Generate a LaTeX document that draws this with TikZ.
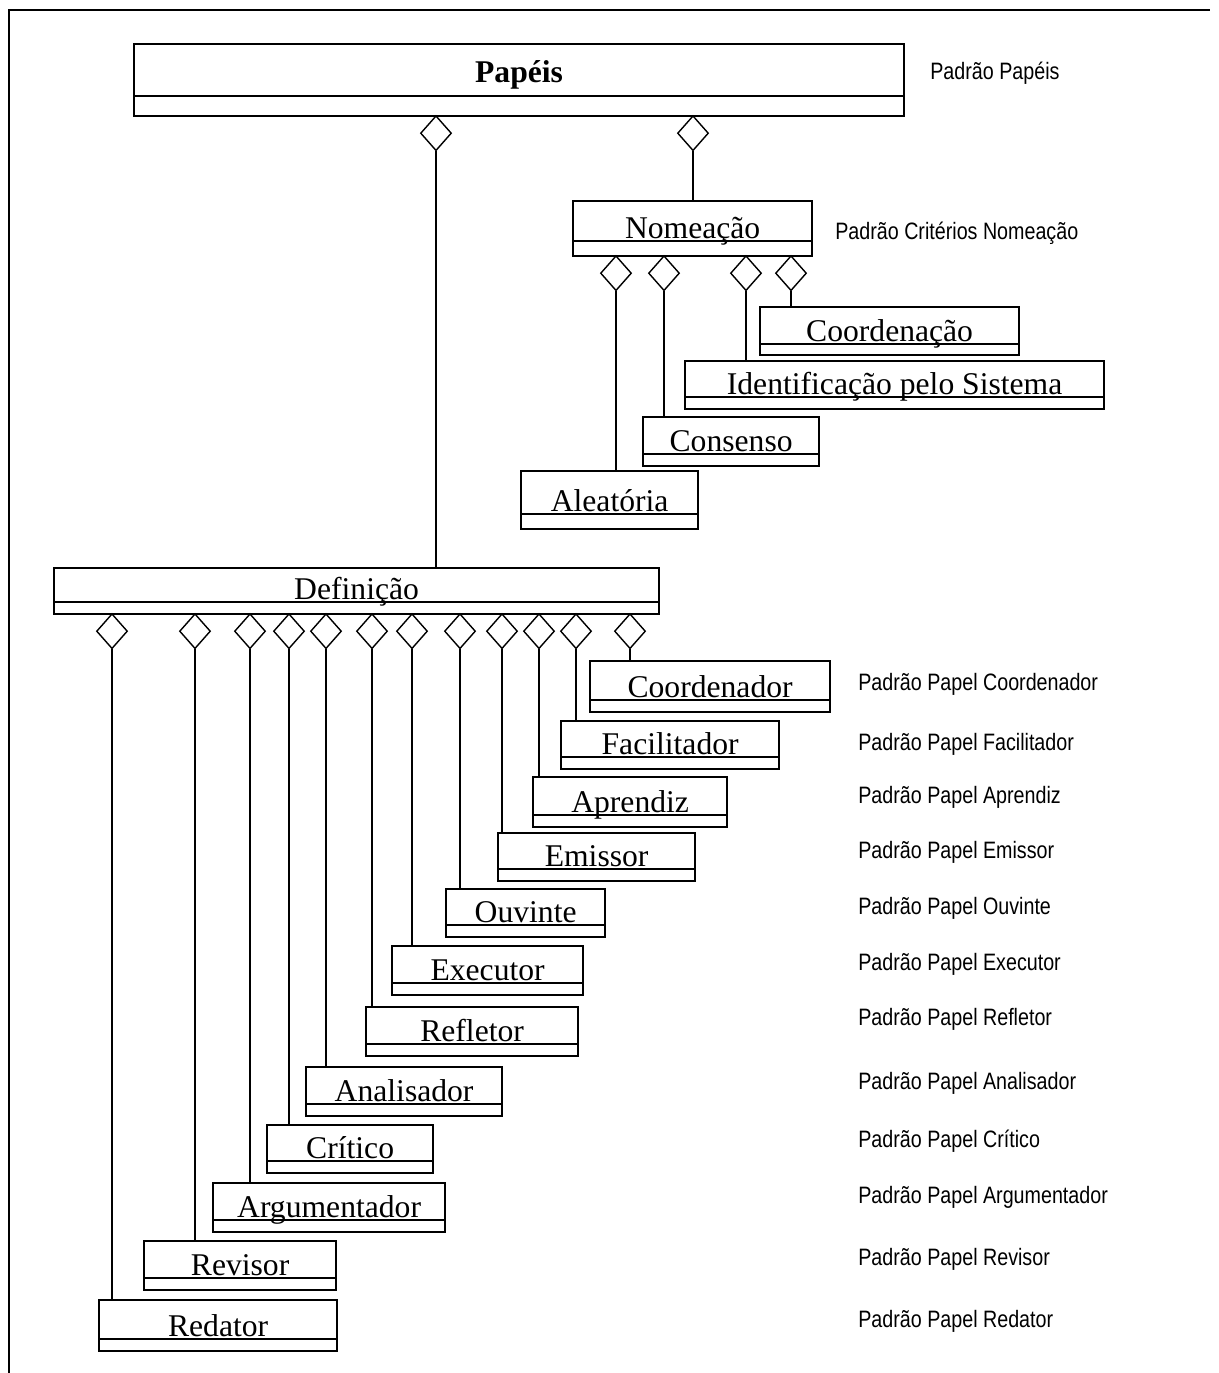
\documentclass[tikz,border=0pt]{standalone}
\usepackage{fontspec}
\usepackage{tikz}
\usetikzlibrary{shapes.geometric}
\newfontfamily\serifbox{Liberation Serif}
\newfontfamily\sansnarrow[FakeStretch=0.83]{Liberation Sans}
\tikzset{
  classbox/.style={draw,rectangle,line width=1.3pt,inner sep=0pt,anchor=north west,
    path picture={\draw[line width=0.9pt] ([yshift=#1]path picture bounding box.south west)
      -- ([yshift=#1]path picture bounding box.south east);}},
  classbox/.default=0.24cm,
  classname/.style={anchor=base,inner sep=0pt,font=\serifbox\fontsize{18}{20}\selectfont,yshift=#1},
  classname/.default=0.31cm,
  agg/.style={draw,diamond,line width=0.8pt,fill=white,inner sep=0pt,aspect=0.9,
    minimum width=0.62cm,minimum height=0.7cm,anchor=north},
  link/.style={line width=0.8pt},
  patlabel/.style={anchor=west,inner sep=0pt,font=\sansnarrow\fontsize{13.5}{15}\selectfont}
}

\begin{document}
\begin{tikzpicture}[x=0.02cm,y=-0.02cm]
    \useasboundingbox (0,0) rectangle (1218,1373);
    % frame
    \draw[line width=1.1pt] (9,1373) -- (9,10) -- (1210,10);

    % top class
    \node[classbox=0.4cm,minimum width=15.4cm,minimum height=1.44cm,
      label={[classname=0.7cm,font=\serifbox\bfseries\fontsize{18}{20}\selectfont]south:Papéis}] (papeis) at (133,43) {};
    \node[patlabel] (lpapeis) at (930,73) {Padrão Papéis};

    % naming criteria
    \node[classbox=0.3cm,minimum width=4.78cm,minimum height=1.1cm,
      label={[classname=0.37cm]south:Nomeação}] (nomeacao) at (572,200) {};
    \node[patlabel] (lnomeacao) at (835,233) {Padrão Critérios Nomeação};
    \node[classbox=0.22cm,minimum width=5.18cm,minimum height=0.96cm,
      label={[classname=0.29cm]south:Coordenação}] (coordenacao) at (759,306) {};
    \node[classbox,minimum width=8.38cm,minimum height=0.96cm,
      label={[classname]south:Identificação pelo Sistema}] (identificacao) at (684,360) {};
    \node[classbox,minimum width=3.52cm,minimum height=0.98cm,
      label={[classname]south:Consenso}] (consenso) at (642,416) {};
    \node[classbox=0.3cm,minimum width=3.54cm,minimum height=1.16cm,
      label={[classname=0.37cm]south:Aleatória}] (aleatoria) at (520,470) {};

    % definition
    \node[classbox,minimum width=12.1cm,minimum height=0.92cm,
      label={[classname]south:Definição}] (definicao) at (53,567) {};

    % roles
    \node[classbox,minimum width=4.8cm,minimum height=1.02cm,
      label={[classname]south:Coordenador}] (coordenador) at (589,660) {};
    \node[classbox,minimum width=4.36cm,minimum height=0.96cm,
      label={[classname]south:Facilitador}] (facilitador) at (560,720) {};
    \node[classbox,minimum width=3.88cm,minimum height=1.0cm,
      label={[classname]south:Aprendiz}] (aprendiz) at (532,776) {};
    \node[classbox,minimum width=3.94cm,minimum height=0.96cm,
      label={[classname]south:Emissor}] (emissor) at (497,832) {};
    \node[classbox,minimum width=3.18cm,minimum height=0.96cm,
      label={[classname]south:Ouvinte}] (ouvinte) at (445,888) {};
    \node[classbox,minimum width=3.82cm,minimum height=0.98cm,
      label={[classname]south:Executor}] (executor) at (391,945) {};
    \node[classbox,minimum width=4.24cm,minimum height=0.98cm,
      label={[classname]south:Refletor}] (refletor) at (365,1006) {};
    \node[classbox,minimum width=3.92cm,minimum height=0.98cm,
      label={[classname]south:Analisador}] (analisador) at (305,1066) {};
    \node[classbox,minimum width=3.32cm,minimum height=0.96cm,
      label={[classname]south:Crítico}] (critico) at (266,1124) {};
    \node[classbox,minimum width=4.64cm,minimum height=0.98cm,
      label={[classname]south:Argumentador}] (argumentador) at (212,1182) {};
    \node[classbox,minimum width=3.84cm,minimum height=0.98cm,
      label={[classname]south:Revisor}] (revisor) at (143,1240) {};
    \node[classbox,minimum width=4.76cm,minimum height=1.02cm,
      label={[classname]south:Redator}] (redator) at (98,1299) {};

    % pattern names
    \node[patlabel] (lcoordenador) at (858,684) {Padrão Papel Coordenador};
    \node[patlabel] (lfacilitador) at (858,744) {Padrão Papel Facilitador};
    \node[patlabel] (laprendiz) at (858,797) {Padrão Papel Aprendiz};
    \node[patlabel] (lemissor) at (858,852) {Padrão Papel Emissor};
    \node[patlabel] (louvinte) at (858,908) {Padrão Papel Ouvinte};
    \node[patlabel] (lexecutor) at (858,964) {Padrão Papel Executor};
    \node[patlabel] (lrefletor) at (858,1019) {Padrão Papel Refletor};
    \node[patlabel] (lanalisador) at (858,1083) {Padrão Papel Analisador};
    \node[patlabel] (lcritico) at (858,1141) {Padrão Papel Crítico};
    \node[patlabel] (largumentador) at (858,1197) {Padrão Papel Argumentador};
    \node[patlabel] (lrevisor) at (858,1259) {Padrão Papel Revisor};
    \node[patlabel] (lredator) at (858,1321) {Padrão Papel Redator};

    % aggregations from Papeis
    \node[agg] (ap1) at (436,115) {};
    \node[agg] (ap2) at (693,115) {};
    \draw[link] (ap1.south) -- (ap1.south |- definicao.north);
    \draw[link] (ap2.south) -- (ap2.south |- nomeacao.north);

    % aggregations from Nomeacao
    \node[agg] (an1) at (616,255) {};
    \node[agg] (an2) at (664,255) {};
    \node[agg] (an3) at (746,255) {};
    \node[agg] (an4) at (791,255) {};
    \draw[link] (an1.south) -- (an1.south |- aleatoria.north);
    \draw[link] (an2.south) -- (an2.south |- consenso.north);
    \draw[link] (an3.south) -- (an3.south |- identificacao.north);
    \draw[link] (an4.south) -- (an4.south |- coordenacao.north);

    % aggregations from Definicao
    \node[agg] (ad1) at (112,613) {};
    \node[agg] (ad2) at (195,613) {};
    \node[agg] (ad3) at (250,613) {};
    \node[agg] (ad4) at (289,613) {};
    \node[agg] (ad5) at (326,613) {};
    \node[agg] (ad6) at (372,613) {};
    \node[agg] (ad7) at (412,613) {};
    \node[agg] (ad8) at (460,613) {};
    \node[agg] (ad9) at (502,613) {};
    \node[agg] (ad10) at (539,613) {};
    \node[agg] (ad11) at (576,613) {};
    \node[agg] (ad12) at (630,613) {};
    \draw[link] (ad1.south) -- (ad1.south |- redator.north);
    \draw[link] (ad2.south) -- (ad2.south |- revisor.north);
    \draw[link] (ad3.south) -- (ad3.south |- argumentador.north);
    \draw[link] (ad4.south) -- (ad4.south |- critico.north);
    \draw[link] (ad5.south) -- (ad5.south |- analisador.north);
    \draw[link] (ad6.south) -- (ad6.south |- refletor.north);
    \draw[link] (ad7.south) -- (ad7.south |- executor.north);
    \draw[link] (ad8.south) -- (ad8.south |- ouvinte.north);
    \draw[link] (ad9.south) -- (ad9.south |- emissor.north);
    \draw[link] (ad10.south) -- (ad10.south |- aprendiz.north);
    \draw[link] (ad11.south) -- (ad11.south |- facilitador.north);
    \draw[link] (ad12.south) -- (ad12.south |- coordenador.north);
\end{tikzpicture}
\end{document}
